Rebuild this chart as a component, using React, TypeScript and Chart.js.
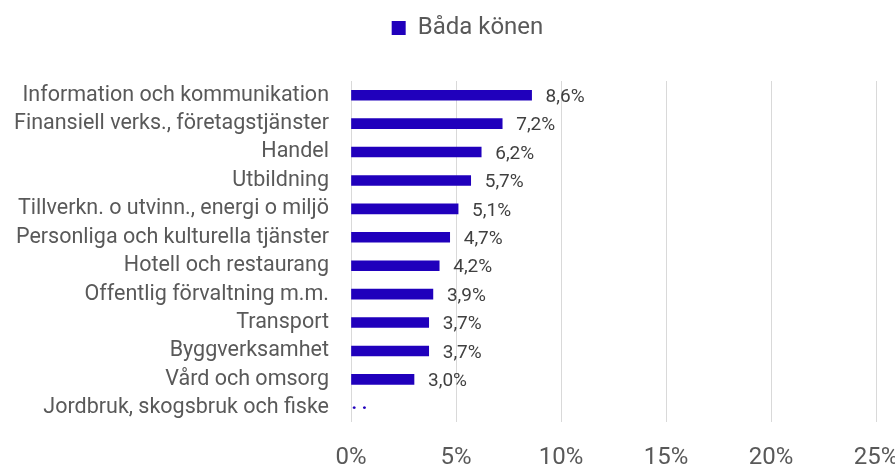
import React, { useEffect, useRef } from "react";
import { Chart, registerables } from "chart.js";

Chart.register(...registerables);

const categories = [
  "Information och kommunikation",
  "Finansiell verks., företagstjänster",
  "Handel",
  "Utbildning",
  "Tillverkn. o utvinn., energi o miljö",
  "Personliga och kulturella tjänster",
  "Hotell och restaurang",
  "Offentlig förvaltning m.m.",
  "Transport",
  "Byggverksamhet",
  "Vård och omsorg",
  "Jordbruk, skogsbruk och fiske",
];
const values: (number | null)[] = [8.6, 7.2, 6.2, 5.7, 5.1, 4.7, 4.2, 3.9, 3.7, 3.7, 3.0, null];
const seriesName = "Båda könen";
const xTicks = [0, 5, 10, 15, 20, 25];

const BAR = "#2000BC";

const labelPlugin = {
  id: "valueLabels",
  beforeLayout(chart: any) {
    const lg = chart.legend;
    if (lg && !lg._patched) {
      const f = lg.fit.bind(lg);
      lg.fit = function () {
        f();
        this.height = 81;
      };
      const d = lg._draw.bind(lg);
      lg._draw = function () {
        this.ctx.save();
        this.ctx.translate(20, 1);
        d();
        this.ctx.restore();
      };
      lg._patched = true;
    }
  },
  afterDatasetsDraw(chart: any) {
    const ctx = chart.ctx;
    const meta = chart.getDatasetMeta(0);
    const xs = chart.scales.x;
    ctx.save();
    meta.data.forEach((bar: any, i: number) => {
      const v = values[i];
      if (v === null) {
        ctx.fillStyle = BAR;
        ctx.font = "bold 19px Roboto";
        ctx.textAlign = "left";
        ctx.textBaseline = "alphabetic";
        ctx.fillText(". .", xs.getPixelForValue(0) + 0.5, bar.y + 1);
      } else {
        ctx.fillStyle = "#404040";
        ctx.font = "19px Roboto";
        ctx.textAlign = "left";
        ctx.textBaseline = "middle";
        ctx.fillText(v.toFixed(1).replace(".", ",") + "%", bar.x + 14, bar.y + 2);
      }
    });
    ctx.restore();
  },
};

export default function App() {
  const ref = useRef<HTMLCanvasElement>(null);
  useEffect(() => {
    document.body.style.margin = "0";
    const chart = new Chart(ref.current!, {
      type: "bar",
      data: {
        labels: categories,
        datasets: [
          {
            label: seriesName,
            data: values,
            backgroundColor: BAR,
            borderWidth: 0,
            barThickness: 10,
          },
        ],
      },
      options: {
        indexAxis: "y",
        animation: false,
        responsive: false,
        maintainAspectRatio: false,
        layout: { padding: 0 },
        plugins: {
          legend: {
            display: true,
            position: "top",
            labels: {
              boxWidth: 14,
              boxHeight: 14,
              color: "#595959",
              font: { family: "Roboto", size: 24 },
              padding: 15,
            },
          },
          tooltip: { enabled: false },
        },
        scales: {
          x: {
            min: 0,
            max: 25,
            afterBuildTicks: (s: any) => {
              s.ticks = xTicks.map((v) => ({ value: v }));
            },
            afterFit: (s: any) => {
              s.height = 46;
              s.paddingRight = 19;
              s.paddingLeft = 0;
            },
            ticks: {
              callback: (v: any) => v + "%",
              color: "#595959",
              font: { family: "Roboto", size: 24 },
              padding: 22,
              maxRotation: 0,
            },
            grid: { color: "#d9d9d9", drawTicks: false, lineWidth: 1 },
            border: { display: false },
          },
          y: {
            afterFit: (s: any) => {
              s.width = 351;
            },
            ticks: {
              color: "#595959",
              font: { family: "Roboto", size: 21.5 },
              padding: 22,
              autoSkip: false,
            },
            grid: { display: false, drawTicks: false },
            border: { display: false },
          },
        },
      },
      plugins: [labelPlugin],
    });
    return () => chart.destroy();
  }, []);
  return (
    <div style={{ width: 895, height: 468 }}>
      <canvas ref={ref} width={895} height={468} style={{ display: "block" }} />
    </div>
  );
}
